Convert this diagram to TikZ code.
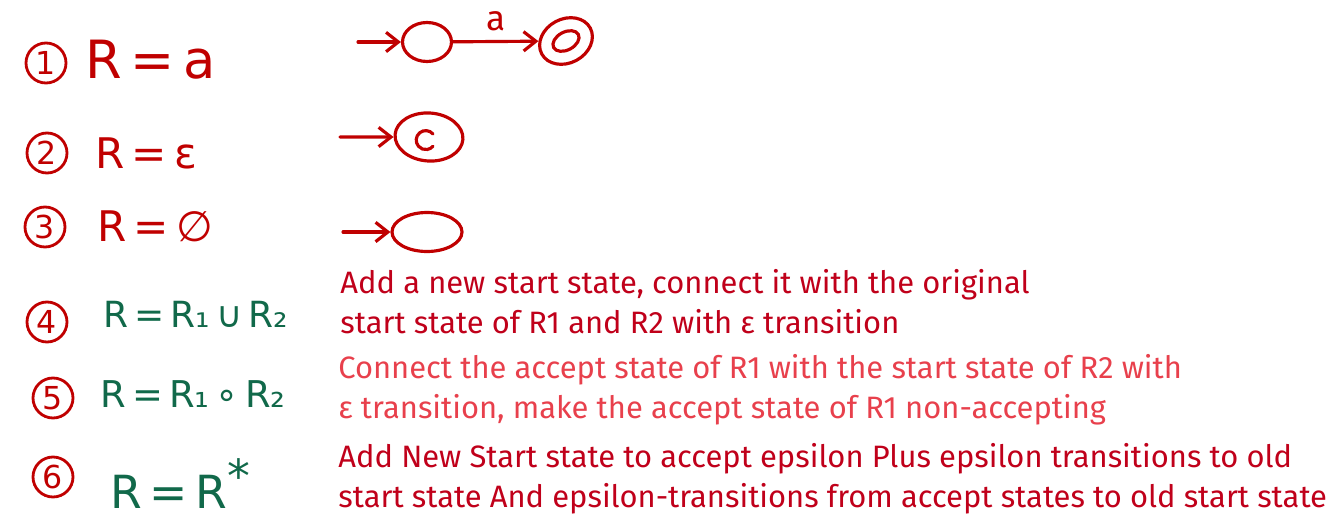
\documentclass[tikz,border=0pt]{standalone}
\usepackage{fontspec}
\setmainfont{Fira Sans}
\newfontfamily\formfont{DejaVu Sans}
\usepackage{tikz}
\usetikzlibrary{arrows.meta,positioning,shapes.geometric}
\definecolor{InkRed}{HTML}{C00000}
\definecolor{TextRed}{HTML}{C0001A}
\definecolor{LightRed}{HTML}{E8404C}
\definecolor{InkGreen}{HTML}{11694A}

\begin{document}
\begin{tikzpicture}[x=0.02cm,y=-0.02cm,>={Straight Barb[length=7pt,width=11pt]},
  ink/.style={InkRed,line width=1.8pt,line cap=round},
  num/.style={circle,draw=InkRed,line width=1.6pt,text=InkRed,inner sep=0pt,minimum size=0.8cm,font=\formfont\fontsize{18}{18}\selectfont},
  state/.style={ellipse,draw=InkRed,line width=1.8pt,inner sep=0pt},
  formula/.style={anchor=west,inner sep=0pt,font=\formfont\fontsize{#1}{#1}\selectfont},
  note/.style={anchor=base west,inner sep=0pt,font=\fontsize{17.6}{20}\selectfont}]
  \useasboundingbox (0,0) rectangle (1342,524);
  % numbered cases
  \foreach \i/\xx/\yy in {1/46/63,2/47/153,3/45/227,4/47/322,5/53/398,6/53/477}
    \node[num] (n\i) at (\xx,\yy) {\i};
  % base cases
  \node[formula=30,text=InkRed] (r1) at (85,60) {R\,=\,a};
  \node[formula=24,text=InkRed] (r2) at (95,153) {R\,=\,ε};
  \node[formula=24,text=InkRed] (r3) at (97,226) {R\,=\,∅};
  % inductive cases
  \node[formula=20.5,text=InkGreen] (r4) at (103,314) {R\,=\,R₁\,∪\,R₂};
  \node[formula=21,text=InkGreen] (r5) at (100,394) {R\,=\,R₁\,∘\,R₂};
  \node[formula=26,text=InkGreen] (r6) at (110,484) {R\,=\,R\raisebox{0.35em}{*}};
  % automaton for a
  \coordinate (in1) at (358,42);
  \node[state,minimum width=0.98cm,minimum height=0.78cm] (q1) at (427,42) {};
  \node[state,minimum width=1.1cm,minimum height=0.88cm,rotate=28] (acc1) at (566,41) {};
  \node[state,minimum width=0.56cm,minimum height=0.36cm,rotate=28] (acc1in) at (acc1.center) {};
  \draw[ink,->] (in1) -- (q1);
  \draw[ink,->] (q1) -- node[above=0.06cm,text=InkRed,font=\fontsize{20}{20}\selectfont] (lbla) {a} (acc1);
  % automaton for epsilon
  \coordinate (in2) at (340,137);
  \node[state,minimum width=1.36cm,minimum height=0.96cm,rotate=-4] (q2) at (429,137) {};
  \draw[ink] ([shift={(0.08cm,0.06cm)}]q2.center) arc[start angle=40,end angle=320,radius=0.19cm];
  \draw[ink,->] (in2) -- (q2);
  % automaton for empty set
  \coordinate (in3) at (343,232);
  \node[state,minimum width=1.4cm,minimum height=0.78cm] (q3) at (427,232) {};
  \draw[ink,->] (in3) -- (q3);
  % explanations
  \node[note,text=TextRed] (l4a) at (340,293) {Add a new start state, connect it with the original};
  \node[note,text=TextRed] (l4b) at (340,333) {start state of R1 and R2 with ε transition};
  \node[note,text=LightRed] (l5a) at (338,378) {Connect the accept state of R1 with the start state of R2 with};
  \node[note,text=LightRed] (l5b) at (338,418) {ε transition, make the accept state of R1 non-accepting};
  \node[note,text=TextRed] (l6a) at (338,467) {Add New Start state to accept epsilon Plus epsilon transitions to old};
  \node[note,text=TextRed] (l6b) at (338,507) {start state And epsilon-transitions from accept states to old start state};
\end{tikzpicture}
\end{document}
